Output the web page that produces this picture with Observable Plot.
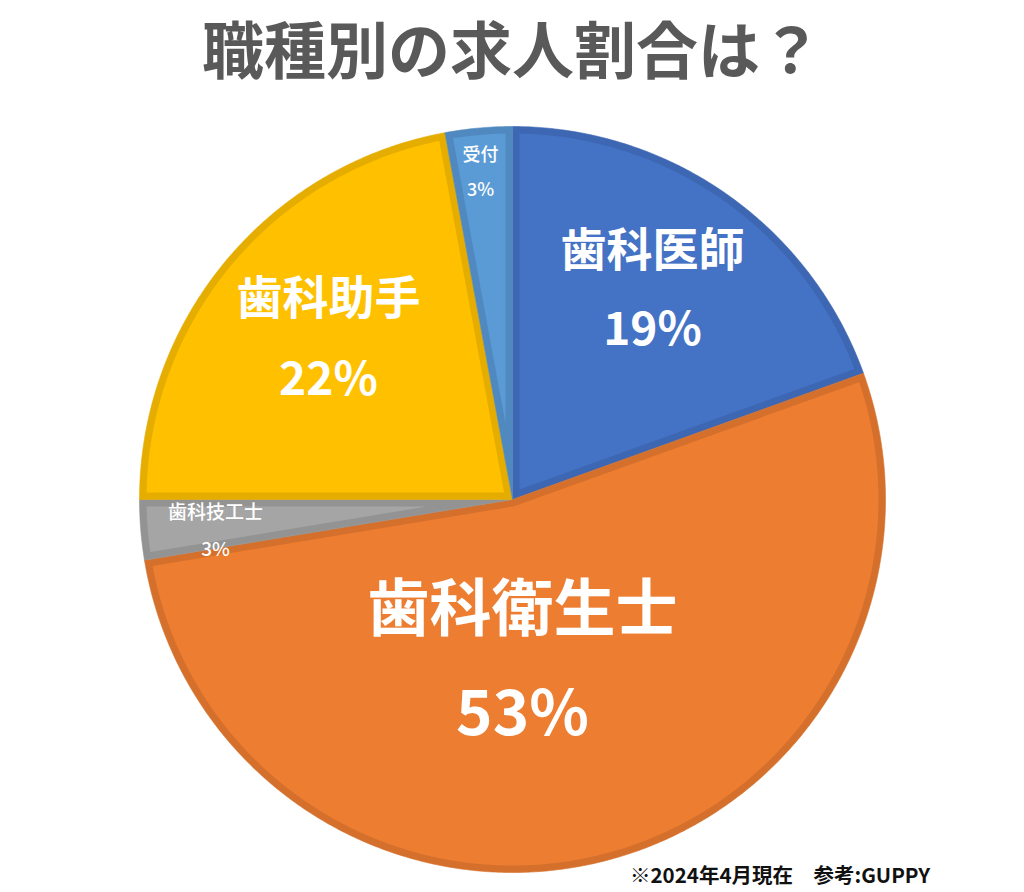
<!DOCTYPE html>
<html><head><meta charset="utf-8">
<script src="https://cdn.jsdelivr.net/npm/d3@7"></script>
<script src="https://cdn.jsdelivr.net/npm/@observablehq/plot@0.6"></script>
<style>
html,body{margin:0;padding:0;background:#fff;}
#wrap{position:relative;width:1024px;height:892px;font-family:"Noto Sans CJK JP","Noto Sans",sans-serif;}
#chart{position:absolute;left:0;top:0;}
#title{position:absolute;left:0;top:9px;width:1024px;text-align:center;font-size:62px;font-weight:700;color:#595959;line-height:76px;}
#caption{position:absolute;left:630px;top:861px;font-size:20.5px;font-weight:700;color:#111;line-height:26px;white-space:pre;}
</style></head><body>
<div id="wrap"><div id="chart"></div><div id="title"></div><div id="caption"></div></div>
<script>
// ---- data ----
const titleText = "職種別の求人割合は？";
const captionText = "※2024年4月現在　参考:GUPPY";
const categories = ["歯科医師", "歯科衛生士", "歯科技工士", "歯科助手", "受付"];
const shares = [19.5, 52.9, 2.6, 22.1, 2.9];
const pctLabels = ["19%", "53%", "3%", "22%", "3%"];

// ---- styles / layout ----
const fillColors = ["#4472C4", "#ED7D31", "#A5A5A5", "#FFC000", "#5B9BD5"];
const borderColors = ["#3D67B2", "#D5702C", "#939393", "#E5AD00", "#5089C0"];
const labelPolar = [[33.9, 0.673], [176.5, 0.44], [263.8, 0.801], [310.9, 0.653], [354.4, 0.879]];
const labelSizes = [46, 62, 19, 46, 18];
const labelWeights = [700, 700, 500, 700, 500];
const labelGaps = [79, 104, 37, 81, 35];
const R_PX = 373;
const inset = 7 / R_PX;
const FONT = "Noto Sans CJK JP";

document.getElementById("title").textContent = titleText;
document.getElementById("caption").textContent = captionText;

const arcs = d3.pie().sort(null).value(d => d)(shares);
const pt = (a, r) => ({x: r * Math.sin(a), y: r * Math.cos(a)});
function arcPts(a0, a1, r) {
  const n = Math.max(2, Math.ceil((a1 - a0) / (Math.PI / 360)));
  return d3.range(n + 1).map(i => pt(a0 + (a1 - a0) * i / n, r));
}
function outerWedge(a0, a1) {
  return [{x: 0, y: 0}, ...arcPts(a0, a1, 1), {x: 0, y: 0}];
}
function innerWedge(a0, a1, d) {
  const h = (a1 - a0) / 2, m = (a0 + a1) / 2;
  const apex = pt(m, d / Math.sin(h));
  const rp = 1 - d;
  const phi = Math.asin(d / rp);
  return [apex, ...arcPts(a0 + phi, a1 - phi, rp), apex];
}

const marks = [];
arcs.forEach((a, i) => {
  marks.push(Plot.line(outerWedge(a.startAngle, a.endAngle), {x: "x", y: "y", fill: borderColors[i], stroke: borderColors[i], strokeWidth: 0.6}));
  marks.push(Plot.line(innerWedge(a.startAngle, a.endAngle, inset), {x: "x", y: "y", fill: fillColors[i], stroke: "none"}));
});
categories.forEach((c, i) => {
  const [deg, rf] = labelPolar[i];
  const p = pt(deg * Math.PI / 180, rf);
  const datum = [{x: p.x, y: p.y, name: c, pct: pctLabels[i]}];
  marks.push(Plot.text(datum, {x: "x", y: "y", text: "name", fill: "white", fontSize: labelSizes[i], fontWeight: labelWeights[i], fontFamily: FONT, dy: -labelGaps[i] / 2}));
  marks.push(Plot.text(datum, {x: "x", y: "y", text: "pct", fill: "white", fontSize: labelSizes[i], fontWeight: labelWeights[i], fontFamily: FONT, dy: labelGaps[i] / 2}));
});

const chart = Plot.plot({
  width: 1024, height: 892,
  marginLeft: 139, marginRight: 139, marginTop: 126, marginBottom: 20,
  x: {domain: [-1, 1], axis: null},
  y: {domain: [-1, 1], axis: null},
  style: {fontFamily: FONT, background: "white"},
  marks
});
document.getElementById("chart").appendChild(chart);
</script>
</body></html>
